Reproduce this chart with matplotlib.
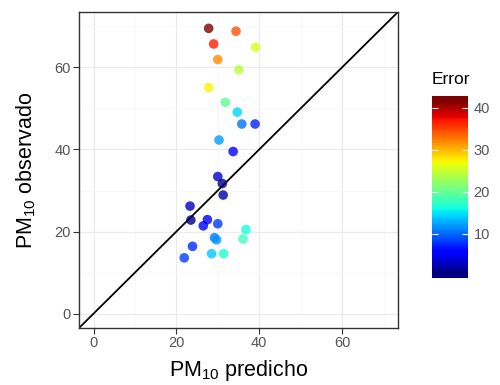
import numpy as np
import matplotlib
matplotlib.use("Agg")
import matplotlib.pyplot as plt
from matplotlib.colors import Normalize

plt.rcParams["font.family"] = ["Liberation Sans", "DejaVu Sans"]

# valores
predicho = [27.8, 34.4, 29.0, 39.1, 30.0, 35.1, 27.8, 31.8, 34.7, 35.8,
            39.0, 30.3, 33.7, 30.0, 31.1, 31.3, 23.3, 23.5, 27.5, 26.5,
            30.0, 36.8, 36.1, 29.2, 29.7, 23.9, 28.5, 31.4, 21.9]
observado = [69.5, 68.8, 65.7, 64.9, 61.9, 59.4, 55.1, 51.5, 49.1, 46.2,
             46.2, 42.3, 39.5, 33.4, 31.7, 28.9, 26.2, 22.8, 22.9, 21.4,
             21.9, 20.5, 18.2, 18.5, 18.0, 16.4, 14.6, 14.6, 13.6]
error = [41.7, 34.4, 36.7, 25.8, 31.9, 24.3, 27.3, 19.7, 14.4, 10.4,
         7.2, 12.0, 5.8, 3.4, 0.6, 2.4, 2.9, 0.7, 4.6, 5.1,
         8.1, 16.3, 17.9, 10.7, 11.7, 7.5, 13.9, 16.8, 8.3]

ticks = [0, 20, 40, 60]
cbar_ticks = [10, 20, 30, 40]
lims = (-3.5, 73.5)

fig = plt.figure(figsize=(5.0, 3.85), dpi=100)
ax = fig.add_axes([0.158, 0.148, 0.638, 0.821])

norm = Normalize(vmin=min(error), vmax=max(error))
cmap = plt.get_cmap("jet")

# rejilla estilo theme_bw
ax.set_xlim(lims)
ax.set_ylim(lims)
ax.set_xticks(ticks)
ax.set_yticks(ticks)
ax.set_xticks([10, 30, 50, 70], minor=True)
ax.set_yticks([10, 30, 50, 70], minor=True)
ax.grid(which="major", color="#EBEBEB", lw=0.9)
ax.grid(which="minor", color="#F5F5F5", lw=0.5)
ax.set_axisbelow(True)
ax.tick_params(which="minor", length=0)
ax.tick_params(which="major", length=4.5, width=0.8, color="#333333",
               labelcolor="#555555", labelsize=10.5, pad=1.5)
for sp in ax.spines.values():
    sp.set_color("#333333")
    sp.set_linewidth(1.0)

ax.axline((0, 0), slope=1, color="black", lw=1.3, zorder=2)
ax.scatter(predicho, observado, c=error, cmap=cmap, norm=norm, s=48,
           alpha=0.8, edgecolors="none", zorder=3)

ax.set_xlabel(r"PM$_{\mathregular{10}}$ predicho", fontsize=15.5, labelpad=5.5)
ax.set_ylabel(r"PM$_{\mathregular{10}}$ observado", fontsize=15.5, labelpad=12)

# barra de color (como ggplot, medio bin extra en cada extremo)
cax = fig.add_axes([0.864, 0.279, 0.072, 0.472])
half = (max(error) - min(error)) / 19 / 2
lo, hi = min(error) - half, max(error) + half
grad = np.linspace(lo, hi, 256).reshape(-1, 1)
cax.imshow(grad, cmap=cmap, norm=norm, aspect="auto", origin="lower",
           extent=[0, 1, lo, hi])
cax.set_xlim(0, 1)
cax.set_ylim(lo, hi)
cax.set_xticks([])
cax.set_yticks(cbar_ticks)
cax.yaxis.tick_right()
cax.tick_params(axis="y", direction="in", length=4, width=0.8, color="white",
                labelcolor="#555555", labelsize=10.5, pad=4, left=True)
for sp in cax.spines.values():
    sp.set_visible(False)
fig.text(0.864, 0.775, "Error", fontsize=12.5, ha="left", va="bottom")

fig.savefig("out.png", dpi=100)
